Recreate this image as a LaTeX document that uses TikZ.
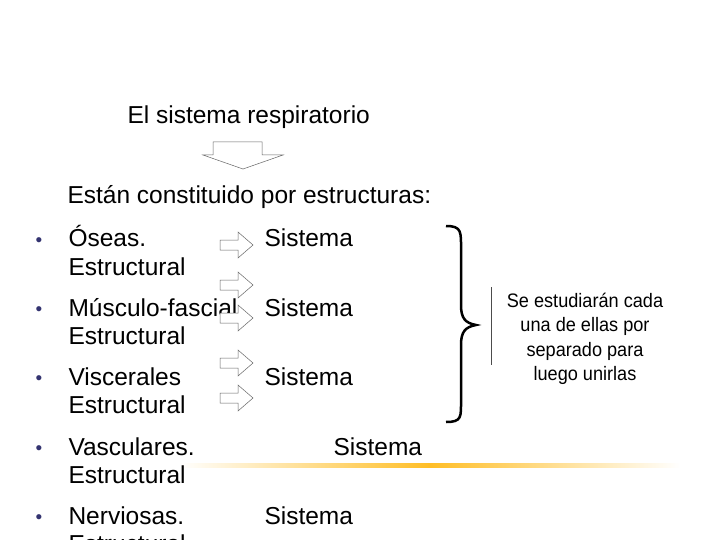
\documentclass[tikz,border=0pt]{standalone}
\usepackage{fontspec}
\setmainfont{Liberation Sans}
\newfontfamily\narrowf[FakeStretch=0.93]{Liberation Sans}
\begin{document}
\begin{tikzpicture}[x=1pt,y=-1pt,
  bl/.style={anchor=base west,font=\fontsize{24.5}{28}\selectfont},
  bu/.style={anchor=base west,font=\fontsize{19}{20}\selectfont,text=black!60!blue!60!gray},
  ra/.style={draw=gray!80!black,fill=white,line width=0.5pt}]
\useasboundingbox (0,0) rectangle (720,540);
\fill[white] (0,0) rectangle (720,540);
% orange line
\shade[left color=white,right color=orange!60!yellow!85] (180,463) rectangle (430,467);
\shade[left color=orange!60!yellow!85,right color=white] (430,463) rectangle (680,467);
\node[anchor=base west,font=\fontsize{24.5}{28}\selectfont] (t) at (124,124) {El sistema respiratorio};
\draw[ra] (213,142) -- (262,142) -- (262,155) -- (283,155) -- (243,169) -- (203,155) -- (213,155) -- cycle;
\node[anchor=base west,font=\fontsize{24.5}{28}\selectfont] (s) at (64,204) {Están constituido por estructuras:};
\foreach \y/\a/\b [count=\i] in {247/Óseas./Estructural, 316/Músculo-fascial./Estructural, 385/Viscerales/Estructural, 455/Vasculares./Estructural, 524/Nerviosas./Estructural}{
  \node[bu] (b\i) at (32,\y-1) {•};
  \node[bl] (a\i) at (65,\y) {\a};
  \node[bl] (e\i) at (65,\y+28) {\b};
}
\node[bl] (s1) at (261,247) {Sistema};
\node[bl] (s2) at (261,316) {Sistema};
\node[bl] (s3) at (261,385) {Sistema};
\node[bl] (s4) at (330,455) {Sistema};
\node[bl] (s5) at (261,524) {Sistema};
\foreach \c in {245,285,318,363,398}{
  \draw[ra] (220,\c-5) -- (238,\c-5) -- (238,\c-13) -- (253,\c) -- (238,\c+13) -- (238,\c+5) -- (220,\c+5) -- cycle;
}
\draw[line width=2.5pt] (446,226) .. controls (462,226) and (461,232) .. (461,250) -- (461,305)
  .. controls (461,318) and (465,323) .. (476,325) .. controls (465,327) and (461,332) .. (461,345) -- (461,400)
  .. controls (461,417) and (462,422) .. (446,422);
\draw[black!70] (491,287) -- (491,365);
\node[align=center,font=\narrowf\fontsize{19.5}{24.5}\selectfont] (r) at (585,339) {Se estudiarán cada\\una de ellas por\\separado para\\luego unirlas};
\end{tikzpicture}
\end{document}
